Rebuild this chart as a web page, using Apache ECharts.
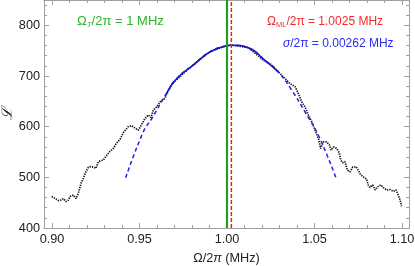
<!DOCTYPE html>
<html>
<head>
<meta charset="utf-8">
<script src="https://cdn.jsdelivr.net/npm/echarts@6/dist/echarts.min.js"></script>
<style>html,body{margin:0;padding:0;background:#fff}#c{width:415px;height:266px}</style>
</head>
<body>
<div id="c"></div>
<script>
// Measured data (black dots)
const dataX = [0.8998,0.9017,0.9036,0.9050,0.9065,0.9080,0.9093,0.9103,0.9122,0.9137,0.9150,0.9166,0.9179,0.9194,0.9208,0.9221,0.9236,0.9251,0.9265,0.9280,0.9293,0.9309,0.9331,0.9350,0.9370,0.9389,0.9407,0.9436,0.9455,0.9474,0.9493,0.9512,0.9531,0.9550,0.9566,0.9579,0.9598,0.9617,0.9646,0.9665,0.9693,0.9722,0.9750,0.9807,0.9903,0.9998,1.0027,1.0122,1.0208,1.0255,1.0303,1.0360,1.0389,1.0407,1.0427,1.0446,1.0465,1.0484,1.0503,1.0522,1.0535,1.0550,1.0570,1.0585,1.0594,1.0608,1.0627,1.0642,1.0650,1.0661,1.0674,1.0688,1.0703,1.0718,1.0737,1.0750,1.0764,1.0783,1.0798,1.0807,1.0817,1.0832,1.0846,1.0859,1.0878,1.0893,1.0912,1.0932,1.0950,1.0966,1.0979,1.0989,1.0998];
const dataY = [462,458.6,454,455,458,452,455,462,465,458,468,488,498,511,520,521,520,518,531,533,534,542,551,557,568,575,588,600,602,597,593,604,616,623,618,633,639,649,656,672,688,695,705,722,748,760,761,756,731,722,705,685,679,666,649,639,623,610,593,577,557,570,570,564,554,560,557,548,534,529,531,514,511,520,521,514,505,500,496,485,480,485,475,481,485,480,475,476,472,475,465,455,443];
// Fit curve (blue)
const fitX = [0.9421,0.9522,0.9570,0.9655,0.9713,0.9807,0.9903,0.9998,1.0027,1.0122,1.0217,1.0293,1.0370,1.0446,1.0522,1.0627];
const fitY = [499,590,616,666,695,721.5,747.7,759.6,760.8,755.6,731,708,672,629,583,495];
const fitSolidRange = [0.9655, 1.0293];
// Reference frequencies
const omegaT = 1.0;
const omegaML = 1.0025;
// Axes
const xMin = 0.89543, xMax = 1.1040;
const xMajor = [0.90,0.95,1.00,1.05,1.10];
const xMinor = [0.90,0.91,0.92,0.93,0.94,0.95,0.96,0.97,0.98,0.99,1.00,1.01,1.02,1.03,1.04,1.05,1.06,1.07,1.08,1.09,1.10];
const yMin = 400, yMax = 850, yStep = 100;

const pts = dataX.map((x,i)=>[x,dataY[i]]);
const fitPts = fitX.map((x,i)=>[x,fitY[i]]);
const fitSolid = fitPts.filter(p=>p[0]>=fitSolidRange[0]-1e-9 && p[0]<=fitSolidRange[1]+1e-9);

const axisCol = '#a0a0a0';
const txt = '#222';
const font = 'Liberation Sans, Arial, sans-serif';

function xAx(pos, ticks, len, labels){
  return {
    type:'value', position:pos, min:xMin, max:xMax,
    axisLine:{show:true, onZero:false, lineStyle:{color:axisCol,width:1}},
    axisTick:{show:true, inside:true, length:len, customValues:ticks, lineStyle:{color:axisCol}},
    axisLabel:{show:labels, customValues:xMajor, formatter:v=>v.toFixed(2), color:txt, fontSize:12.7, fontFamily:font, margin:5},
    splitLine:{show:false}
  };
}
function yAx(pos, labels, tickLen, minor){
  return {
    type:'value', position:pos, min:yMin, max:yMax, interval:yStep,
    axisLine:{show:true, onZero:false, lineStyle:{color:axisCol,width:1}},
    axisTick:{show:true, inside:true, length:tickLen, lineStyle:{color:axisCol}},
    minorTick:{show:minor, splitNumber:5, length:3, lineStyle:{color:axisCol}},
    axisLabel:{show:labels, color:txt, fontSize:12.7, fontFamily:font, margin:4,
      formatter:v=> (v>=400 && v<=800 && v%100===0) ? String(v) : ''},
    splitLine:{show:false}
  };
}
const xAxes = [xAx('bottom', xMajor, 5, true), xAx('bottom', xMinor, 3, false), xAx('top', xMajor, 5, false), xAx('top', xMinor, 3, false)];
xAxes[0].name = '{n|Ω/2}{i|π}{n| (MHz)}';
xAxes[0].nameLocation = 'middle';
xAxes[0].nameGap = 24;
xAxes[0].nameTextStyle = {rich:{n:{fontSize:12.7,color:txt,fontFamily:font},i:{fontSize:12.7,color:txt,fontFamily:font,fontStyle:'italic'}}};
const yAxes = [yAx('left', true, 5, true), yAx('right', false, 5, true)];

const chart = echarts.init(document.getElementById('c'), null, {renderer:'canvas'});
chart.setOption({
  animation:false,
  backgroundColor:'#fff',
  grid:{left:44, right:6, top:0, bottom:38, containLabel:false, outerBoundsMode:'none'},
  xAxis:xAxes,
  yAxis:yAxes,
  series:[
    {type:'line', data:pts, showSymbol:false, smooth:false,
      lineStyle:{color:'#111', width:1.7, type:[1.3,1.1]}, z:2},
    {type:'line', data:fitPts, showSymbol:false, smooth:true,
      lineStyle:{color:'#1f1fe6', width:1.5, type:[4,3]}, z:3},
    {type:'line', data:fitSolid, showSymbol:false, smooth:true,
      lineStyle:{color:'#1515cc', width:1.5}, z:4},
    {type:'line', data:[[omegaT,yMin],[omegaT,yMax]], showSymbol:false,
      lineStyle:{color:'#1f9e1f', width:2.2}, z:5},
    {type:'line', data:[[omegaML,yMin],[omegaML,yMax]], showSymbol:false,
      lineStyle:{color:'#ee1c1c', width:1.5, type:[4,2]}, z:6}
  ],
  graphic:[
    {type:'text', x:8, y:114, rotation:Math.PI/2, style:{
      text:'ℒ', fill:txt, font:'italic 15px DejaVu Serif, serif', align:'center', verticalAlign:'middle'}},
    {type:'text', left:77, top:15, style:{
      text:'Ω{s|T}/2π = 1 MHz', fill:'#2ab52a', font:'13px '+font,
      rich:{s:{fontSize:8, fill:'#2ab52a', fontFamily:font, fontStyle:'italic', padding:[7,0,0,0]}}}},
    {type:'text', left:267, top:16, style:{
      text:'Ω{s|ML}/2π = 1.0025 MHz', fill:'#f52a2a', font:'12px '+font,
      rich:{s:{fontSize:7.5, fill:'#f52a2a', fontFamily:font, padding:[6,0,0,0]}}}},
    {type:'text', left:283, top:38, style:{
      text:'{i|σ}/2π = 0.00262 MHz', fill:'#2a2af0', font:'12px '+font,
      rich:{i:{fontSize:12, fill:'#2a2af0', fontFamily:font, fontStyle:'italic'}}}}
  ]
});
</script>
</body>
</html>
